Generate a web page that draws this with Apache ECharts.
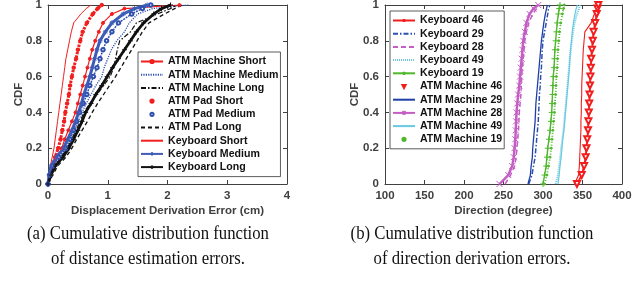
<!DOCTYPE html>
<html>
<head>
<meta charset="utf-8">
<script src="https://cdn.jsdelivr.net/npm/echarts@6/dist/echarts.min.js"></script>
<style>
  html, body { margin: 0; padding: 0; background: #fff; }
  #chart { width: 644px; height: 285px; }
</style>
</head>
<body>
<div id="chart"></div>
<script>
const cdfLevels = [0, 0.05, 0.1, 0.15, 0.2, 0.25, 0.3, 0.35, 0.4, 0.45, 0.5, 0.55, 0.6, 0.65, 0.7, 0.75, 0.8, 0.85, 0.9, 0.95, 0.98, 1];

// (a) displacement derivation error, cm
const leftNames = ["ATM Machine Short", "ATM Machine Medium", "ATM Machine Long", "ATM Pad Short", "ATM Pad Medium", "ATM Pad Long", "Keyboard Short", "Keyboard Medium", "Keyboard Long"];
const atmMachineShort = [0, 0.04, 0.09, 0.16, 0.23, 0.28, 0.34, 0.4, 0.46, 0.5, 0.54, 0.58, 0.62, 0.66, 0.7, 0.74, 0.79, 0.85, 0.92, 1.07, 1.28, 2.2];
const atmMachineMedium = [0, 0.04, 0.1, 0.2, 0.32, 0.39, 0.45, 0.51, 0.57, 0.64, 0.72, 0.8, 0.9, 0.94, 1.0, 1.06, 1.15, 1.28, 1.36, 1.5, 1.75, 2.35];
const atmMachineLong = [0, 0.05, 0.12, 0.22, 0.32, 0.4, 0.47, 0.54, 0.6, 0.7, 0.82, 0.93, 1.04, 1.1, 1.13, 1.16, 1.2, 1.38, 1.48, 1.83, 2.05, 2.16];
const atmPadShort = [0, 0.03, 0.07, 0.12, 0.17, 0.21, 0.24, 0.27, 0.29, 0.32, 0.35, 0.37, 0.4, 0.43, 0.47, 0.5, 0.54, 0.58, 0.65, 0.75, 0.83, 0.9];
const atmPadMedium = [0, 0.03, 0.08, 0.18, 0.3, 0.37, 0.43, 0.48, 0.53, 0.59, 0.65, 0.7, 0.76, 0.82, 0.87, 0.92, 0.98, 1.07, 1.18, 1.4, 1.58, 1.72];
const atmPadLong = [0, 0.08, 0.16, 0.3, 0.4, 0.48, 0.57, 0.66, 0.74, 0.83, 0.93, 1.03, 1.13, 1.22, 1.31, 1.4, 1.49, 1.58, 1.69, 1.95, 2.12, 2.25];
const keyboardShort = [0, 0.02, 0.04, 0.07, 0.1, 0.12, 0.14, 0.16, 0.18, 0.2, 0.22, 0.24, 0.26, 0.28, 0.3, 0.33, 0.36, 0.39, 0.43, 0.55, 0.64, 0.72];
const keyboardMedium = [0, 0.02, 0.05, 0.14, 0.26, 0.33, 0.4, 0.46, 0.51, 0.56, 0.6, 0.65, 0.7, 0.74, 0.78, 0.82, 0.87, 0.96, 1.07, 1.26, 1.45, 1.66];
const keyboardLong = [0, 0.05, 0.12, 0.25, 0.35, 0.43, 0.5, 0.57, 0.63, 0.72, 0.8, 0.9, 0.99, 1.08, 1.18, 1.28, 1.38, 1.48, 1.6, 1.77, 1.9, 2.05];

// (b) direction, degree
const rightNames = ["Keyboard 46", "Keyboard 29", "Keyboard 28", "Keyboard 49", "Keyboard 19", "ATM Machine 46", "ATM Machine 29", "ATM Machine 28", "ATM Machine 49", "ATM Machine 19"];
const keyboard46 = [340, 345, 346, 346.5, 347, 347.5, 348, 348, 348.5, 348.5, 349, 349, 349.5, 350, 350.5, 351, 352, 353, 361, 365, 369, 371];
const keyboard29 = [282, 286, 288, 290, 291, 292, 293, 294, 294.5, 295, 295.5, 296.5, 297, 298, 298.5, 299, 300, 302, 304, 306, 307, 309];
const keyboard28 = [252, 259, 264, 266, 267, 268, 269, 269.5, 270, 271, 272, 272.5, 273, 274, 275, 276, 277, 279, 282, 287, 292, 296];
const keyboard49 = [316, 319, 320.5, 322, 323, 324.5, 326, 327, 328, 329, 330, 331, 332, 333, 334, 335, 336.5, 338, 340, 343, 345.5, 347];
const keyboard19 = [300, 302, 304, 305, 306, 307.5, 309, 310, 311, 311.5, 312, 312.5, 313, 314, 314.5, 315, 316, 317, 318, 319.5, 320.5, 321.5];
const atmMachine46 = [343, 349, 352, 354, 355, 356, 357, 357.5, 358, 358.5, 359, 359.5, 360, 360.5, 361, 362, 363, 364, 366, 368, 369, 370];
const atmMachine29 = [281, 284, 285, 286.5, 287, 288, 289, 290, 290.5, 291, 292, 293, 294, 295, 296, 297, 298, 299.5, 301, 303, 304.5, 305.5];
const atmMachine28 = [245, 256, 261, 263, 264, 265, 265.5, 266, 266.5, 267.5, 268.5, 270, 271, 272, 273, 274, 275, 277, 279, 283, 288, 294];
const atmMachine49 = [319, 320.5, 321.5, 323, 324, 325, 326.5, 327.5, 328.5, 329.5, 330.5, 331.5, 332.5, 333.5, 334, 335, 336, 337, 338.5, 340.5, 342, 343.5];
const atmMachine19 = [302, 305, 307, 309, 310.5, 311.5, 312.5, 313.5, 314.5, 315, 316, 316.5, 317, 318, 318.5, 319, 320, 321, 322.5, 324.5, 326, 327];

const leftValues = [atmMachineShort, atmMachineMedium, atmMachineLong, atmPadShort, atmPadMedium, atmPadLong, keyboardShort, keyboardMedium, keyboardLong];
const rightValues = [keyboard46, keyboard29, keyboard28, keyboard49, keyboard19, atmMachine46, atmMachine29, atmMachine28, atmMachine49, atmMachine19];

const red = "#f21d1d", blue = "#2f4fae", black = "#111", pink = "#c45ec4", green = "#4fb82c", cyan = "#68c9df";
const plusSym = "path://M5,0L5,10M0,5L10,5";
const crossSym = "path://M0,0L10,10M10,0L0,10";
const starSym = "path://M5,0L5,10M0,5L10,5M1.5,1.5L8.5,8.5M8.5,1.5L1.5,8.5";

// legend: "line" = line only, "marker" = marker only, "both"
const leftStyles = [
  { color: red, width: 1.2, symbol: "circle", size: 3, show: true, legend: "both" },
  { color: blue, width: 1.3, dash: [1.2, 1.2], legend: "line" },
  { color: black, width: 1.2, dash: [5, 2, 1.5, 2], legend: "line" },
  { color: red, width: 3, dash: [2.5, 1.2], symbol: "circle", size: 3.5, show: true, legend: "marker" },
  { color: blue, width: 1.5, dash: [2, 1], symbol: "emptyCircle", size: 3.5, show: true, legend: "marker" },
  { color: black, width: 1.3, dash: [4, 3], legend: "line" },
  { color: red, width: 1, legend: "line" },
  { color: "#3d5cb8", width: 3, symbol: starSym, size: 5, show: true, legend: "both" },
  { color: black, width: 2.8, symbol: plusSym, size: 5, show: true, legend: "both" },
];
const rightStyles = [
  { color: red, width: 1.1, symbol: plusSym, size: 4, legend: "both" },
  { color: blue, width: 1.5, dash: [5, 2, 1.5, 2], legend: "line" },
  { color: pink, width: 1.5, dash: [5, 3], legend: "line" },
  { color: cyan, width: 2, dash: [1, 1], legend: "line" },
  { color: green, width: 1.4, symbol: plusSym, size: 6, show: true, legend: "both" },
  { color: red, width: 1.8, symbol: "emptyTriangle", rotate: 180, size: 6, show: true, legend: "marker" },
  { color: "#1f3fa8", width: 1.3, legend: "line" },
  { color: pink, width: 2.5, symbol: crossSym, size: 6, show: true, legend: "both" },
  { color: cyan, width: 1.2, legend: "line" },
  { color: green, width: 1.8, dash: [1, 2], symbol: "circle", size: 2, show: true, legend: "marker" },
];

function cdfSeries(name, values, axis, st) {
  return {
    type: "line",
    name,
    xAxisIndex: axis,
    yAxisIndex: axis,
    data: values.map((v, i) => [v, cdfLevels[i]]),
    symbol: st.symbol || "none",
    symbolSize: st.size || 4,
    symbolRotate: st.rotate || 0,
    showSymbol: !!st.show,
    lineStyle: { color: st.color, width: st.width, type: st.dash || "solid" },
    itemStyle: { color: st.color, borderColor: st.color, borderWidth: 1 },
    silent: true,
  };
}

function legendItem(name, st) {
  const item = { name };
  if (st.legend === "line") item.itemStyle = { opacity: 0 };
  if (st.legend === "marker") item.lineStyle = { opacity: 0 };
  return item;
}

const textFont = { fontFamily: "Liberation Sans", fontWeight: "bold", fontSize: 11.5, color: "#404040" };
const axisColor = "#404040";

function axes(kind, grid, min, max, interval, name, gap) {
  const base = {
    type: "value", gridIndex: grid, min, max, interval,
    axisLine: { show: true, onZero: false, lineStyle: { color: axisColor, width: 1 } },
    axisTick: { show: true, inside: true, length: 4, lineStyle: { color: axisColor } },
    splitLine: { show: false },
  };
  return [
    Object.assign({}, base, {
      position: kind === "x" ? "bottom" : "left",
      name, nameLocation: "middle", nameGap: gap, nameRotate: kind === "x" ? 0 : 90,
      nameMoveOverlap: false,
      nameTextStyle: textFont,
      axisLabel: Object.assign({ margin: 6 }, textFont),
    }),
    Object.assign({}, base, {
      position: kind === "x" ? "top" : "right",
      axisLabel: { show: false },
    }),
  ];
}

const legendBase = {
  orient: "vertical", itemWidth: 22, itemHeight: 4, itemGap: 2.2,
  padding: [4, 2, 4, 2], borderColor: "#333", borderWidth: 0.8, backgroundColor: "#fff",
  selectedMode: false,
  textStyle: { fontFamily: "Liberation Sans", fontWeight: "bold", fontSize: 10.6, color: "#111", lineHeight: 10 },
};

const captionStyle = { fontFamily: "Liberation Serif", fontSize: 19, fill: "#111", align: "center", verticalAlign: "middle" };

const chart = echarts.init(document.getElementById("chart"), null, { renderer: "canvas" });
chart.setOption({
  animation: false,
  backgroundColor: "#fff",
  grid: [
    { left: 48, top: 5, width: 239, height: 179, outerBoundsMode: "none" },
    { left: 385, top: 5, width: 237, height: 179, outerBoundsMode: "none" },
  ],
  xAxis: [
    ...axes("x", 0, 0, 4, 1, "Displacement Derivation Error (cm)", 21),
    ...axes("x", 1, 100, 400, 50, "Direction (degree)", 21),
  ],
  yAxis: [
    ...axes("y", 0, 0, 1, 0.2, "CDF", 23),
    ...axes("y", 1, 0, 1, 0.2, "CDF", 24),
  ],
  legend: [
    Object.assign({}, legendBase, { left: 138, top: 52, data: leftNames.map((n, i) => legendItem(n, leftStyles[i])) }),
    Object.assign({}, legendBase, { left: 390, top: 11, data: rightNames.map((n, i) => legendItem(n, rightStyles[i])) }),
  ],
  series: [
    ...leftNames.map((n, i) => cdfSeries(n, leftValues[i], 0, leftStyles[i])),
    ...rightNames.map((n, i) => cdfSeries(n, rightValues[i], 2, rightStyles[i])),
  ],
  graphic: [
    { type: "text", x: 148, y: 234, scaleX: 0.88, style: Object.assign({ text: "(a) Cumulative distribution function" }, captionStyle) },
    { type: "text", x: 148, y: 259, scaleX: 0.88, style: Object.assign({ text: "of distance estimation errors." }, captionStyle) },
    { type: "text", x: 472, y: 234, scaleX: 0.88, style: Object.assign({ text: "(b) Cumulative distribution function" }, captionStyle) },
    { type: "text", x: 472, y: 259, scaleX: 0.88, style: Object.assign({ text: "of direction derivation errors." }, captionStyle) },
  ],
});
</script>
</body>
</html>
